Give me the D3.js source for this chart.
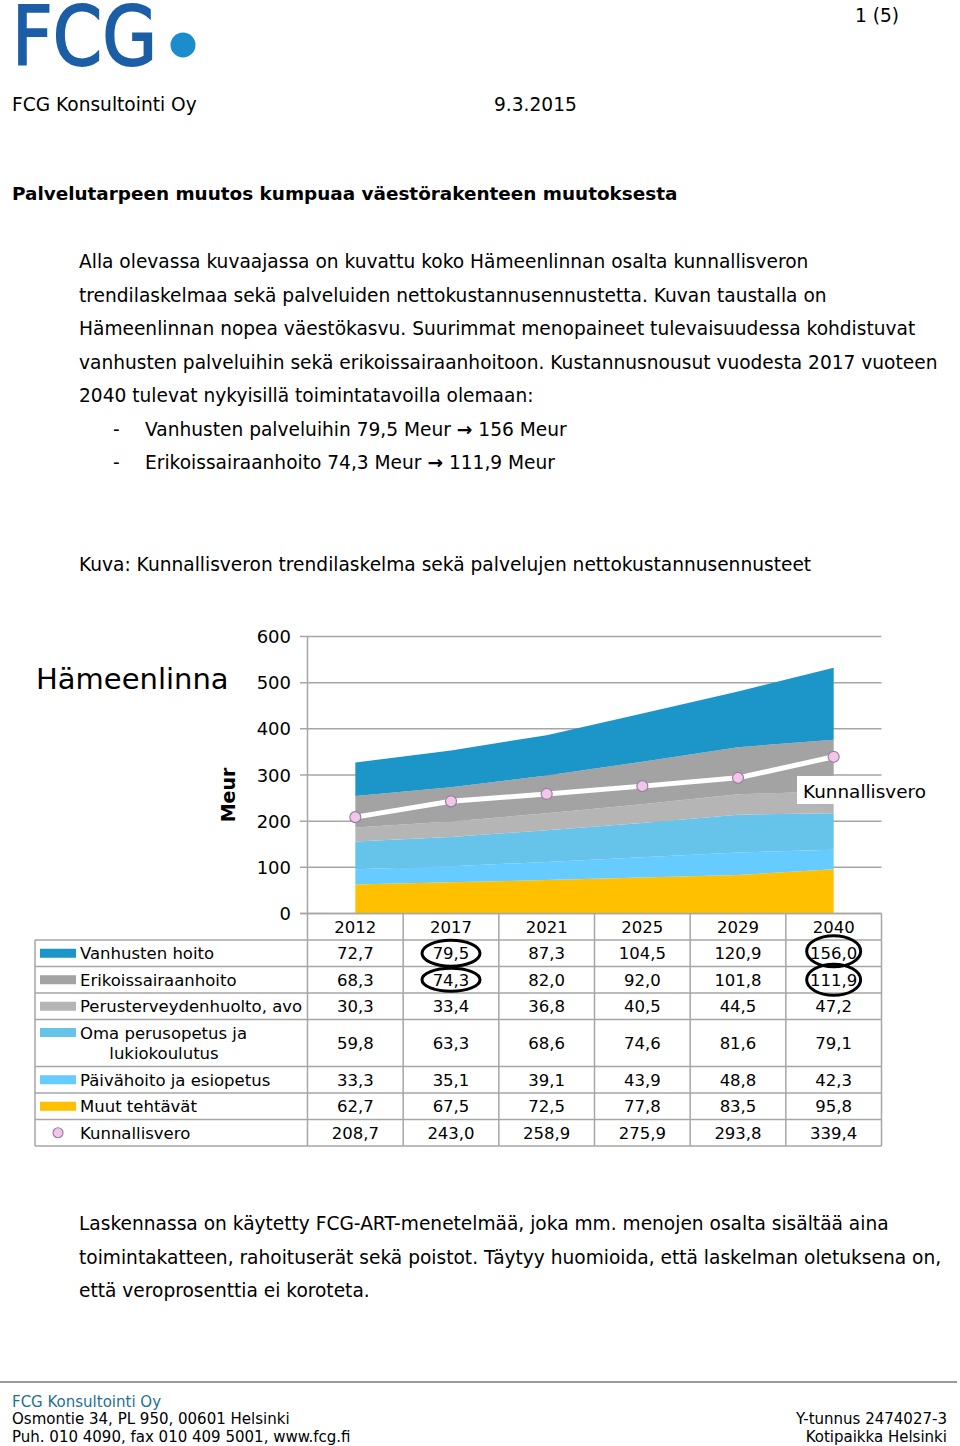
<!DOCTYPE html>
<html><head><meta charset="utf-8">
<script src="https://cdn.jsdelivr.net/npm/d3@7/dist/d3.min.js"></script>
<style>
html,body{margin:0;padding:0;background:#fff;}
svg{display:block;}
text{font-family:"DejaVu Sans",Verdana,sans-serif;fill:#000;}
</style></head>
<body>
<script>
// ---- data ----
const years = ["2012","2017","2021","2025","2029","2040"];
const vanhustenHoito = [72.7,79.5,87.3,104.5,120.9,156.0];
const erikoissairaanhoito = [68.3,74.3,82.0,92.0,101.8,111.9];
const perusterveydenhuolto = [30.3,33.4,36.8,40.5,44.5,47.2];
const omaPerusopetus = [59.8,63.3,68.6,74.6,81.6,79.1];
const paivahoito = [33.3,35.1,39.1,43.9,48.8,42.3];
const muutTehtavat = [62.7,67.5,72.5,77.8,83.5,95.8];
const kunnallisvero = [208.7,243.0,258.9,275.9,293.8,339.4];
const yTicks = [0,100,200,300,400,500,600];
const seriesNames = ["Vanhusten hoito","Erikoissairaanhoito","Perusterveydenhuolto, avo","Oma perusopetus ja|lukiokoulutus","Päivähoito ja esiopetus","Muut tehtävät","Kunnallisvero"];
const highlighted = [["2017",0],["2017",1],["2040",0],["2040",1]];

const W=960,H=1446;
const svg=d3.select("body").append("svg").attr("width",W).attr("height",H);
svg.append("rect").attr("width",W).attr("height",H).attr("fill","#fff");
const BF=18.6;

// ---- header ----
svg.append("g").attr("transform","translate(12,65) scale(1,1.17)")
  .append("text").attr("x",0).attr("y",0).attr("font-size",70)
  .attr("textLength",145).attr("lengthAdjust","spacingAndGlyphs")
  .style("fill","#1c5ea6").style("stroke","#1c5ea6").style("stroke-width",1.6).text("FCG");
svg.append("circle").attr("cx",183).attr("cy",45).attr("r",12.5).attr("fill","#1b8ccc");
svg.append("text").attr("x",855).attr("y",22).attr("font-size",BF).text("1 (5)");
svg.append("text").attr("x",12).attr("y",111).attr("font-size",BF).text("FCG Konsultointi Oy");
svg.append("text").attr("x",494).attr("y",111).attr("font-size",BF).text("9.3.2015");
svg.append("text").attr("x",12).attr("y",200).attr("font-size",18.4).attr("font-weight","bold")
  .text("Palvelutarpeen muutos kumpuaa väestörakenteen muutoksesta");

const para=[
 "Alla olevassa kuvaajassa on kuvattu koko Hämeenlinnan osalta kunnallisveron",
 "trendilaskelmaa sekä palveluiden nettokustannusennustetta. Kuvan taustalla on",
 "Hämeenlinnan nopea väestökasvu. Suurimmat menopaineet tulevaisuudessa kohdistuvat",
 "vanhusten palveluihin sekä erikoissairaanhoitoon. Kustannusnousut vuodesta 2017 vuoteen",
 "2040 tulevat nykyisillä toimintatavoilla olemaan:"];
para.forEach((t,i)=>svg.append("text").attr("x",79).attr("y",268+i*33.6).attr("font-size",BF).text(t));
[["Vanhusten palveluihin 79,5 Meur ","156 Meur",436],["Erikoissairaanhoito 74,3 Meur ","111,9 Meur",469]].forEach(([a,b,y])=>{
  svg.append("text").attr("x",113).attr("y",y).attr("font-size",BF).text("-");
  const t=svg.append("text").attr("x",145).attr("y",y).attr("font-size",BF);
  t.append("tspan").text(a);
  t.append("tspan").attr("font-weight","bold").text("\u2192");
  t.append("tspan").text(" "+b);
});
svg.append("text").attr("x",79).attr("y",571).attr("font-size",BF)
  .text("Kuva: Kunnallisveron trendilaskelma sekä palvelujen nettokustannusennusteet");

// ---- chart ----
const x=d3.scaleBand().domain(years).range([307.5,881.5]).padding(0);
const cx=d=>x(d)+x.bandwidth()/2;
const y=d3.scaleLinear().domain([0,600]).range([913.5,636.5]);

svg.append("text").attr("x",36).attr("y",689).attr("font-size",29).text("Hämeenlinna");
svg.append("text").attr("transform","translate(235,795) rotate(-90)").attr("text-anchor","middle")
  .attr("font-size",19).attr("font-weight","bold").text("Meur");

// gridlines
svg.append("g").selectAll("line").data(yTicks).join("line")
  .attr("x1",300).attr("x2",881.5).attr("y1",d=>y(d)).attr("y2",d=>y(d))
  .attr("stroke","#a6a6a6").attr("stroke-width",1.5);
svg.append("g").selectAll("text").data(yTicks).join("text")
  .attr("x",291).attr("y",d=>y(d)+6.5).attr("text-anchor","end").attr("font-size",18).text(d=>d);

// stacked areas (bottom to top)
const stackSeries=[
 {key:"muut",vals:muutTehtavat,color:"#ffc000"},
 {key:"paiva",vals:paivahoito,color:"#66ccff"},
 {key:"oma",vals:omaPerusopetus,color:"#66c3ea"},
 {key:"perus",vals:perusterveydenhuolto,color:"#b5b5b5"},
 {key:"erik",vals:erikoissairaanhoito,color:"#a3a3a3"},
 {key:"vanh",vals:vanhustenHoito,color:"#1c95c9"}];
const table=years.map((yr,i)=>{const o={year:yr};stackSeries.forEach(s=>o[s.key]=s.vals[i]);return o;});
const stacked=d3.stack().keys(stackSeries.map(s=>s.key))(table);
const area=d3.area().x(d=>cx(d.data.year)).y0(d=>y(d[0])).y1(d=>y(d[1]));
svg.append("g").selectAll("path").data(stacked).join("path")
  .attr("d",area).attr("fill",(d,i)=>stackSeries[i].color);

// axis line
svg.append("line").attr("x1",307.5).attr("x2",307.5).attr("y1",y(600)).attr("y2",y(0)).attr("stroke","#a6a6a6").attr("stroke-width",1.5);

// kunnallisvero line
const line=d3.line().x((d,i)=>cx(years[i])).y(d=>y(d));
svg.append("path").attr("d",line(kunnallisvero)).attr("fill","none").attr("stroke","#fff").attr("stroke-width",5);
svg.append("g").selectAll("circle").data(kunnallisvero).join("circle")
  .attr("cx",(d,i)=>cx(years[i])).attr("cy",d=>y(d)).attr("r",5.5)
  .attr("fill","#f3c5e6").attr("stroke","#9482a6").attr("stroke-width",1.2);
svg.append("rect").attr("x",797).attr("y",776).attr("width",133).attr("height",28).attr("fill","#fff");
svg.append("text").attr("x",803).attr("y",798).attr("font-size",18.4).text("Kunnallisvero");

// ---- data table ----
const tblTop=y(0), hdrH=26.5, rowH=26.5, dblH=47;
const rowHeights=seriesNames.map(n=>n.includes("|")?dblH:rowH);
const rowTops=[];let acc=tblTop+hdrH;rowHeights.forEach(h=>{rowTops.push(acc);acc+=h;});
const tblBottom=acc;
const border="#a6a6a6";
const tg=svg.append("g");
tg.append("line").attr("x1",307.5).attr("x2",881.5).attr("y1",tblTop).attr("y2",tblTop).attr("stroke",border).attr("stroke-width",1.5);
rowTops.concat([tblBottom]).forEach(t=>tg.append("line").attr("x1",35).attr("x2",881.5).attr("y1",t).attr("y2",t).attr("stroke",border).attr("stroke-width",1.5));
tg.append("line").attr("x1",35).attr("x2",35).attr("y1",rowTops[0]).attr("y2",tblBottom).attr("stroke",border).attr("stroke-width",1.5);
years.forEach(yr=>tg.append("line").attr("x1",x(yr)).attr("x2",x(yr)).attr("y1",tblTop).attr("y2",tblBottom).attr("stroke",border).attr("stroke-width",1.5));
tg.append("line").attr("x1",881.5).attr("x2",881.5).attr("y1",tblTop).attr("y2",tblBottom).attr("stroke",border).attr("stroke-width",1.5);
tg.append("line").attr("x1",300).attr("x2",307.5).attr("y1",tblTop).attr("y2",tblTop).attr("stroke",border).attr("stroke-width",1.5);
tg.selectAll("text.yr").data(years).join("text").attr("class","yr")
  .attr("x",d=>cx(d)).attr("y",tblTop+hdrH/2+6).attr("text-anchor","middle").attr("font-size",16.5).text(d=>d);

const fmt=v=>d3.format(".1f")(v).replace(".",",");
const rowVals=[vanhustenHoito,erikoissairaanhoito,perusterveydenhuolto,omaPerusopetus,paivahoito,muutTehtavat,kunnallisvero];
const legendColors=["#1c95c9","#a3a3a3","#b5b5b5","#66c3ea","#66ccff","#ffc000",null];
seriesNames.forEach((n,r)=>{
  const top=rowTops[r], h=rowHeights[r], mid=top+h/2;
  const parts=n.split("|");
  if(parts.length===1){
    tg.append("text").attr("x",80).attr("y",mid+6).attr("font-size",16.5).text(parts[0]);
  } else {
    tg.append("text").attr("x",80).attr("y",top+19).attr("font-size",16.5).text(parts[0]);
    tg.append("text").attr("x",164).attr("y",top+39).attr("text-anchor","middle").attr("font-size",16.5).text(parts[1]);
  }
  const symY=parts.length===1?mid:top+13;
  if(legendColors[r]) tg.append("rect").attr("x",40).attr("y",symY-4.5).attr("width",36).attr("height",9).attr("fill",legendColors[r]);
  else tg.append("circle").attr("cx",58).attr("cy",symY).attr("r",5).attr("fill","#f3c5e6").attr("stroke","#9482a6").attr("stroke-width",1.2);
  rowVals[r].forEach((v,i)=>tg.append("text").attr("x",cx(years[i])).attr("y",mid+6).attr("text-anchor","middle").attr("font-size",16.5).text(fmt(v)));
});
highlighted.forEach(([yr,r])=>{
  const mid=rowTops[r]+rowHeights[r]/2;
  tg.append("ellipse").attr("cx",cx(yr)).attr("cy",mid+(yr==="2040"&&r===0?-2:0)).attr("rx",yr==="2040"?27:29)
    .attr("ry",yr==="2040"?15.5:(r===0?13:11.5)).attr("fill","none").attr("stroke","#000").attr("stroke-width",3);
});

// ---- bottom paragraph ----
["Laskennassa on käytetty FCG-ART-menetelmää, joka mm. menojen osalta sisältää aina",
 "toimintakatteen, rahoituserät sekä poistot. Täytyy huomioida, että laskelman oletuksena on,",
 "että veroprosenttia ei koroteta."].forEach((t,i)=>svg.append("text").attr("x",79).attr("y",1230+i*33.6).attr("font-size",BF).text(t));

// ---- footer ----
svg.append("line").attr("x1",0).attr("x2",957).attr("y1",1382).attr("y2",1382).attr("stroke","#9a9a9a").attr("stroke-width",2);
const ff='"DejaVu Sans Condensed","Liberation Sans",sans-serif';
const FF=16.7;
svg.append("text").attr("x",12).attr("y",1407).attr("font-size",FF).style("font-family",ff).style("fill","#1f7193").text("FCG Konsultointi Oy");
svg.append("text").attr("x",12).attr("y",1424).attr("font-size",FF).style("font-family",ff).text("Osmontie 34, PL 950, 00601 Helsinki");
svg.append("text").attr("x",12).attr("y",1442).attr("font-size",FF).style("font-family",ff).text("Puh. 010 4090, fax 010 409 5001, www.fcg.fi");
svg.append("text").attr("x",947).attr("y",1424).attr("font-size",FF).attr("text-anchor","end").style("font-family",ff).text("Y-tunnus 2474027-3");
svg.append("text").attr("x",947).attr("y",1442).attr("font-size",FF).attr("text-anchor","end").style("font-family",ff).text("Kotipaikka Helsinki");
</script>
</body></html>
